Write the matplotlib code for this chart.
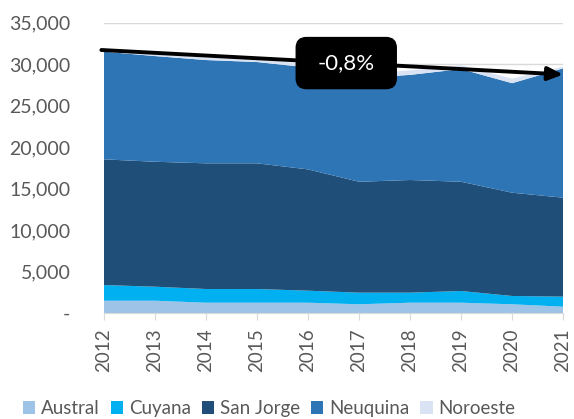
import matplotlib.pyplot as plt
from matplotlib.patches import FancyBboxPatch
from matplotlib.ticker import FuncFormatter

# data
years = [2012, 2013, 2014, 2015, 2016, 2017, 2018, 2019, 2020, 2021]
basins = ['Austral', 'Cuyana', 'San Jorge', 'Neuquina', 'Noroeste']
austral = [1480, 1480, 1240, 1240, 1240, 1050, 1240, 1240, 1050, 760]
cuyana = [1890, 1690, 1650, 1650, 1450, 1400, 1210, 1410, 1000, 1210]
san_jorge = [15150, 15060, 15150, 15150, 14620, 13370, 13580, 13170, 12450, 11930]
neuquina = [12980, 12740, 12450, 12210, 12290, 12480, 12670, 13580, 13200, 15590]
noroeste = [250, 250, 300, 350, 400, 450, 550, 450, 550, 200]
colors = ['#9DC3E6', '#00B0F0', '#1F4E79', '#2E75B6', '#DAE3F3']

trend_label = '-0,8%'
trend_start = 31700
trend_end = 28750

plt.rcParams['font.family'] = ['Lato', 'DejaVu Sans']
gray = '#595959'

fig = plt.figure(figsize=(5.74, 4.19), dpi=100)
ax = fig.add_axes([0.181, 0.253, 0.8, 0.693])

ax.stackplot(years, austral, cuyana, san_jorge, neuquina, noroeste,
             colors=colors, labels=basins, linewidth=0, zorder=2)

ax.set_xlim(years[0], years[-1])
ax.set_ylim(0, 35000)
ax.set_yticks(range(0, 35001, 5000))
ax.yaxis.set_major_formatter(FuncFormatter(lambda v, p: '-' if v == 0 else f'{int(v):,}'))
ax.grid(axis='y', color='#D9D9D9', linewidth=1, zorder=0)
ax.set_axisbelow(True)

ax.set_xticks(years)
ax.set_xticklabels([str(y) for y in years], rotation=90)
ax.tick_params(axis='x', length=5, color='#D9D9D9', labelsize=13.5, labelcolor=gray, pad=6)
ax.tick_params(axis='y', length=0, labelsize=14, labelcolor=gray, pad=24)

for s in ['top', 'right', 'left']:
    ax.spines[s].set_visible(False)
ax.spines['bottom'].set_color('#D9D9D9')

# trend arrow
ax.annotate('', xy=(years[-1], trend_end), xytext=(years[0] - 0.05, trend_start),
            arrowprops=dict(arrowstyle='-|>,head_length=0.9,head_width=0.4',
                            color='black', lw=2.8, shrinkA=0, shrinkB=0),
            zorder=5, annotation_clip=False)

# label box
bx, by, bw, bh = 2015.77, 27050, 1.96, 6150
box = FancyBboxPatch((bx, by), bw, bh, boxstyle='round,pad=0,rounding_size=0.2',
                     mutation_aspect=6150, facecolor='black', edgecolor='black',
                     zorder=6, clip_on=False)
ax.add_patch(box)
ax.text(bx + bw / 2, by + bh / 2, trend_label, color='white', fontsize=16,
        ha='center', va='center', zorder=7)

ax.legend(loc='center', bbox_to_anchor=(0.36, -0.33), ncol=5, frameon=False,
          fontsize=13.5, labelcolor=gray, handlelength=0.65, handleheight=0.65,
          handletextpad=0.3, columnspacing=0.6, borderaxespad=0, borderpad=0)

fig.savefig('out.png', dpi=100)
